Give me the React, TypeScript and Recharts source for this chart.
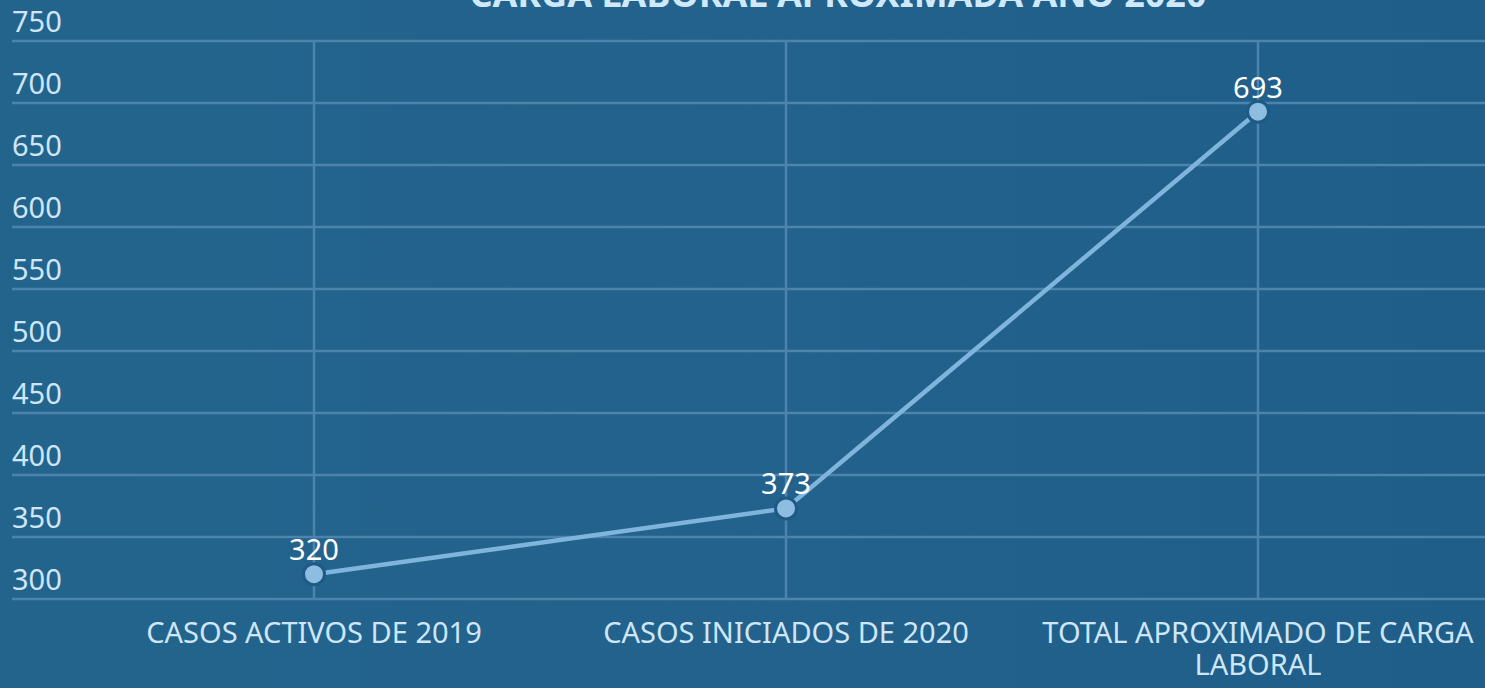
import React from "react";
import { LineChart, Line, XAxis, YAxis, CartesianGrid, LabelList, ReferenceLine } from "recharts";

const TITLE = "CARGA LABORAL APROXIMADA AÑO 2020";
const categories = ["CASOS ACTIVOS DE 2019", "CASOS INICIADOS DE 2020", "TOTAL APROXIMADO DE CARGA LABORAL"];
const values = [320, 373, 693];
const yTicks = [300, 350, 400, 450, 500, 550, 600, 650, 700, 750];

const data = categories.map((c, i) => ({ name: c, value: values[i] }));

const FONT = "'Noto Sans', sans-serif";
const AXIS_TEXT = "#cfe6f7";
const GRID = "#4c84ad";

function wrap(label: string, max: number): string[] {
  const words = label.split(" ");
  const lines: string[] = [];
  let cur = "";
  for (const w of words) {
    const next = cur ? cur + " " + w : w;
    if (next.length > max && cur) {
      lines.push(cur);
      cur = w;
    } else {
      cur = next;
    }
  }
  if (cur) lines.push(cur);
  return lines;
}

const XTick = (props: any) => {
  const { x, y, payload } = props;
  const lines = wrap(String(payload.value), 25);
  return (
    <text x={x} y={y} textAnchor="middle" fill={AXIS_TEXT} fontFamily={FONT} fontSize={29}>
      {lines.map((l, i) => (
        <tspan key={i} x={x} dy={i === 0 ? 36 : 32}>
          {l}
        </tspan>
      ))}
    </text>
  );
};

const YTick = (props: any) => {
  const { y, payload } = props;
  return (
    <text x={12} y={y - 9} textAnchor="start" fill={AXIS_TEXT} fontFamily={FONT} fontSize={29}>
      {payload.value}
    </text>
  );
};

export default function App() {
  return (
    <div
      style={{
        position: "absolute",
        left: 0,
        top: 0,
        width: 1485,
        height: 688,
        background: "linear-gradient(90deg, #23648d 0%, #22628c 50%, #1f5e89 100%)",
        overflow: "hidden",
      }}
    >
      <svg width={1485} height={40} style={{ position: "absolute", left: 0, top: 0 }}>
        <text x={838} y={7} textAnchor="middle" fill="#cfe8fa" fontFamily={FONT} fontWeight="bold" fontSize={36}>
          {TITLE}
        </text>
      </svg>
      <LineChart
        width={1485}
        height={688}
        data={data}
        margin={{ top: 41, right: 0, bottom: 0, left: 11 }}
        style={{ position: "absolute", left: 0, top: 0 }}
      >
        <CartesianGrid stroke={GRID} strokeWidth={2.5} vertical={false} horizontal={true} />
        {categories.map((c) => (
          <ReferenceLine key={c} x={c} stroke={GRID} strokeWidth={2.5} />
        ))}
        <XAxis
          dataKey="name"
          padding={{ left: 302, right: 227 }}
          axisLine={false}
          tickLine={false}
          interval={0}
          tick={<XTick />}
          height={89}
        />
        <YAxis
          domain={[300, 750]}
          ticks={yTicks}
          width={1}
          axisLine={false}
          tickLine={false}
          tick={<YTick />}
          interval={0}
        />
        <Line
          dataKey="value"
          stroke="#7fb5dc"
          strokeWidth={4.5}
          dot={{ r: 10.5, fill: "#8dbde0", stroke: "#1d5a85", strokeWidth: 3 }}
          activeDot={false}
          isAnimationActive={false}
        >
          <LabelList
            dataKey="value"
            position="top"
            offset={14}
            fill="#ffffff"
            fontFamily={FONT}
            fontSize={29}
          />
        </Line>
      </LineChart>
    </div>
  );
}
